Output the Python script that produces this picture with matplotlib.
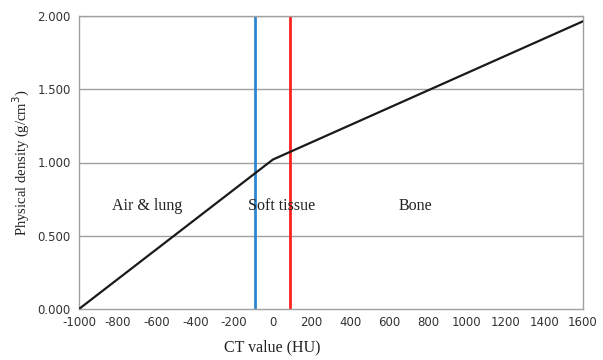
import matplotlib.pyplot as plt

# conversion curve (HU -> physical density)
ct_values = [-1000, 0, 1600]
densities = [0.0, 1.02, 1.964]

# tissue boundaries
blue_boundary = -90
red_boundary = 90

region_names = ['Air & lung', 'Soft tissue', 'Bone']
region_x = [-650, 45, 735]
region_y = [0.70, 0.70, 0.70]

x_ticks = list(range(-1000, 1601, 200))
y_ticks = [0.0, 0.5, 1.0, 1.5, 2.0]

fig = plt.figure(figsize=(6.03, 3.6), dpi=100)
ax = fig.add_axes([79 / 603, 1 - 309 / 360, 504 / 603, 293 / 360])

for y in y_ticks[1:]:
    ax.axhline(y, color='#a0a0a0', lw=1.0, zorder=1)

ax.axvline(blue_boundary, color='#2f86d0', lw=2.0, zorder=2)
ax.axvline(red_boundary, color='#ff2020', lw=2.0, zorder=2)
ax.plot(ct_values, densities, color='#1a1a1a', lw=1.6, zorder=3)

for name, x, y in zip(region_names, region_x, region_y):
    ax.text(x, y, name, ha='center', va='center', fontsize=11.5,
            family='Liberation Serif', color='#222222')

ax.set_xlim(-1000, 1600)
ax.set_ylim(0, 2.0)
ax.set_xticks(x_ticks)
ax.set_xticklabels([str(t) for t in x_ticks])
ax.set_yticks(y_ticks)
ax.set_yticklabels(['%.3f' % t for t in y_ticks])
ax.tick_params(length=0, labelsize=8.5, colors='#333333')
ax.tick_params(axis='x', pad=5)
ax.tick_params(axis='y', pad=6)

for side in ['left', 'right', 'bottom', 'top']:
    ax.spines[side].set_color('#a0a0a0')
    ax.spines[side].set_linewidth(1.0)

ax.set_xlabel('CT value (HU)', fontsize=11.5, family='Liberation Serif',
              color='#222222')
ax.xaxis.set_label_coords(0.383, -0.105)
ax.set_ylabel('Physical density (g/cm$^3$)', fontsize=10.5,
              family='Liberation Serif', color='#222222')
ax.yaxis.set_label_coords(-0.093, 0.5)

fig.savefig('out.png', dpi=100)
